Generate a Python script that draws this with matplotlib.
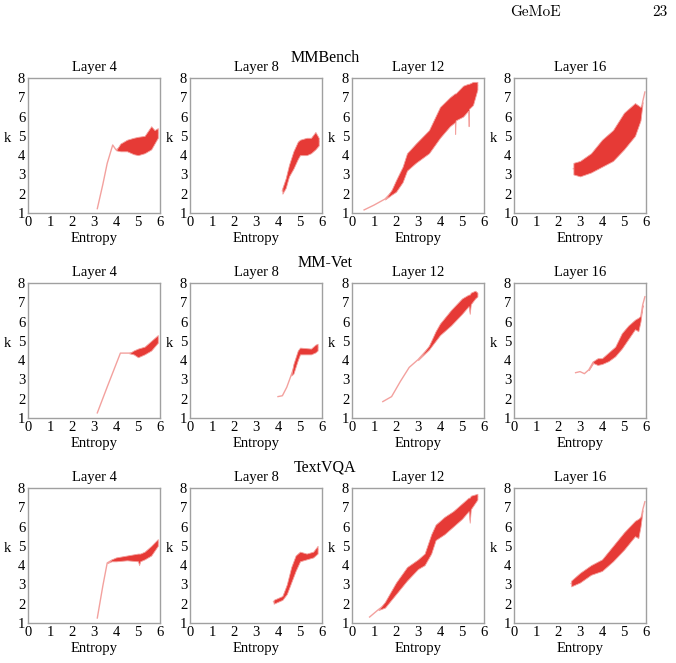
import numpy as np
import matplotlib.pyplot as plt

plt.rcParams['font.family'] = ['Liberation Serif', 'DejaVu Serif']

# entropy positions, lower / upper envelope of k
# --- MMBench ---
mmb4_x = [3.15, 3.4, 3.6, 3.85, 4.0, 4.2, 4.5, 4.8, 5.0, 5.3, 5.6, 5.75, 5.9]
mmb4_lo = [1.2, 2.45, 3.55, 4.5, 4.25, 4.2, 4.2, 4.05, 4.0, 4.1, 4.3, 4.6, 4.9]
mmb4_hi = [1.25, 2.5, 3.6, 4.55, 4.3, 4.6, 4.8, 4.9, 4.95, 5.0, 5.5, 5.3, 5.4]

mmb8_x = [4.2, 4.35, 4.5, 4.7, 4.9, 5.0, 5.3, 5.5, 5.7, 5.85]
mmb8_lo = [2.0, 2.3, 2.9, 3.3, 3.8, 4.0, 4.0, 4.1, 4.3, 4.5]
mmb8_hi = [2.3, 2.8, 3.5, 4.2, 4.7, 4.8, 4.9, 4.9, 5.2, 4.9]

mmb12_x = [0.55, 1.0, 1.5, 1.8, 2.0, 2.3, 2.5, 2.9, 3.5, 4.0, 4.45, 4.67, 4.69, 4.71,
           5.05, 5.28, 5.3, 5.32, 5.5, 5.7]
mmb12_lo = [1.15, 1.4, 1.7, 1.95, 2.1, 2.6, 3.2, 3.6, 4.1, 4.9, 5.5, 5.7, 5.1, 5.8,
            6.0, 6.3, 5.5, 6.4, 6.6, 7.4]
mmb12_hi = [1.17, 1.42, 1.75, 2.2, 2.7, 3.4, 4.1, 4.6, 5.3, 6.5, 7.0, 7.2, 7.2, 7.2,
            7.6, 7.7, 7.7, 7.7, 7.8, 7.8]

mmb16_x = [2.7, 3.0, 3.5, 4.0, 4.5, 5.0, 5.5, 5.75, 5.85, 5.95]
mmb16_lo = [3.0, 2.9, 3.1, 3.4, 3.7, 4.3, 5.0, 5.8, 6.75, 7.25]
mmb16_hi = [3.6, 3.7, 4.1, 4.8, 5.3, 6.2, 6.7, 6.5, 6.8, 7.3]

# --- MM-Vet ---
vet4_x = [3.15, 3.6, 4.2, 4.6, 4.8, 5.0, 5.3, 5.6, 5.9]
vet4_lo = [1.25, 2.6, 4.35, 4.35, 4.3, 4.15, 4.3, 4.5, 4.9]
vet4_hi = [1.28, 2.62, 4.38, 4.38, 4.5, 4.6, 4.7, 5.0, 5.3]

vet8_x = [4.0, 4.2, 4.4, 4.6, 4.7, 4.9, 5.0, 5.5, 5.7, 5.8]
vet8_lo = [2.1, 2.14, 2.58, 3.2, 3.3, 4.0, 4.3, 4.3, 4.4, 4.5]
vet8_hi = [2.12, 2.17, 2.62, 3.25, 3.8, 4.5, 4.65, 4.6, 4.8, 4.85]

vet12_x = [1.4, 1.8, 2.2, 2.6, 3.0, 3.5, 3.8, 4.0, 4.5, 5.0, 5.3, 5.35, 5.4, 5.6, 5.7]
vet12_lo = [1.84, 2.1, 2.88, 3.6, 4.0, 4.55, 5.0, 5.3, 5.8, 6.4, 6.8, 6.4, 6.9, 7.2, 7.3]
vet12_hi = [1.86, 2.12, 2.92, 3.65, 4.05, 4.75, 5.5, 5.9, 6.6, 7.2, 7.4, 7.4, 7.5, 7.6, 7.5]

vet16_x = [2.8, 3.0, 3.2, 3.4, 3.6, 3.8, 4.0, 4.3, 4.6, 4.9, 5.2, 5.5, 5.65, 5.75, 5.85, 5.95]
vet16_lo = [3.34, 3.39, 3.28, 3.48, 3.85, 3.75, 3.8, 3.95, 4.2, 4.6, 5.1, 5.6, 5.5, 6.0, 6.85, 7.28]
vet16_hi = [3.36, 3.42, 3.32, 3.52, 3.95, 4.1, 4.1, 4.4, 4.7, 5.4, 5.8, 6.1, 6.2, 6.3, 6.88, 7.3]

# --- TextVQA ---
tvqa4_x = [3.15, 3.4, 3.6, 3.8, 4.0, 4.5, 5.0, 5.05, 5.1, 5.3, 5.6, 5.9]
tvqa4_lo = [1.25, 2.9, 4.1, 4.2, 4.2, 4.25, 4.2, 4.0, 4.2, 4.3, 4.5, 5.0]
tvqa4_hi = [1.27, 2.93, 4.13, 4.3, 4.4, 4.5, 4.6, 4.6, 4.6, 4.7, 5.0, 5.35]

tvqa8_x = [3.8, 4.0, 4.2, 4.4, 4.6, 4.8, 5.0, 5.3, 5.6, 5.8]
tvqa8_lo = [2.0, 2.1, 2.2, 2.5, 3.1, 3.7, 4.2, 4.3, 4.4, 4.6]
tvqa8_hi = [2.2, 2.3, 2.4, 3.0, 3.9, 4.5, 4.7, 4.6, 4.7, 5.0]

tvqa12_x = [0.8, 1.2, 1.5, 2.0, 2.5, 3.0, 3.3, 3.6, 3.8, 4.2, 4.6, 5.0, 5.3, 5.35, 5.4, 5.7]
tvqa12_lo = [1.3, 1.67, 1.8, 2.5, 3.2, 3.8, 4.0, 4.6, 5.3, 5.6, 6.0, 6.4, 6.8, 6.2, 6.9, 7.4]
tvqa12_hi = [1.32, 1.72, 2.1, 3.1, 3.9, 4.3, 4.6, 5.6, 6.1, 6.5, 6.8, 7.2, 7.5, 7.5, 7.6, 7.7]

tvqa16_x = [2.6, 3.0, 3.5, 4.0, 4.5, 5.0, 5.5, 5.65, 5.75, 5.85, 5.95]
tvqa16_lo = [2.9, 3.1, 3.5, 3.7, 4.2, 4.8, 5.5, 5.4, 6.0, 6.85, 7.28]
tvqa16_hi = [3.2, 3.6, 4.0, 4.3, 5.0, 5.7, 6.3, 6.4, 6.5, 6.88, 7.3]

benchmarks = ['MMBench', 'MM-Vet', 'TextVQA']
layers = [4, 8, 12, 16]
panels = [
    [(mmb4_x, mmb4_lo, mmb4_hi), (mmb8_x, mmb8_lo, mmb8_hi),
     (mmb12_x, mmb12_lo, mmb12_hi), (mmb16_x, mmb16_lo, mmb16_hi)],
    [(vet4_x, vet4_lo, vet4_hi), (vet8_x, vet8_lo, vet8_hi),
     (vet12_x, vet12_lo, vet12_hi), (vet16_x, vet16_lo, vet16_hi)],
    [(tvqa4_x, tvqa4_lo, tvqa4_hi), (tvqa8_x, tvqa8_lo, tvqa8_hi),
     (tvqa12_x, tvqa12_lo, tvqa12_hi), (tvqa16_x, tvqa16_lo, tvqa16_hi)],
]

RED = '#e63a36'
PINK = '#f3a19e'

W, H = 676, 663
fig = plt.figure(figsize=(W / 100, H / 100), dpi=100)

col_left = [28, 190, 352, 514]
row_top = [78, 283, 488]
aw, ah = 132, 135

for r, bench in enumerate(benchmarks):
    for c, layer in enumerate(layers):
        ax = fig.add_axes([col_left[c] / W, 1 - (row_top[r] + ah) / H, aw / W, ah / H])
        x, lo, hi = (np.array(v) for v in panels[r][c])
        wide = (hi - lo) > 0.08
        # thin pink trace underneath, dense red band on top
        ax.plot(x, (lo + hi) / 2, color=PINK, lw=1.0, zorder=1)
        ax.fill_between(x, lo, hi, where=wide, interpolate=True, color=RED,
                        ec=PINK, lw=0.6, zorder=2)
        ax.set_xlim(0, 6)
        ax.set_ylim(1, 8)
        ax.set_xticks(range(0, 7))
        ax.set_yticks(range(1, 9))
        ax.tick_params(length=0, labelsize=10.5, pad=2)
        for s in ax.spines.values():
            s.set_color('#a0a0a0')
            s.set_linewidth(1)
        ax.set_title(f'Layer {layer}', fontsize=10.5, pad=5)
        ax.set_xlabel('Entropy', fontsize=10.5, labelpad=2)
        ax.set_ylabel('k', fontsize=10.5, rotation=0, va='center')
        ax.yaxis.set_label_coords(-0.16, 0.55)
    fig.text(325 / W, 1 - (row_top[r] - 20) / H, bench, fontsize=11.5, ha='center', va='center')

fig.text(535 / W, 1 - 12 / H, 'GeMoE', family=['cmr10', 'DejaVu Serif'], fontsize=11, ha='center', va='center')
fig.text(660 / W, 1 - 12 / H, '23', family=['cmr10', 'DejaVu Serif'], fontsize=11, ha='center', va='center')

fig.savefig('out.png', dpi=100)
